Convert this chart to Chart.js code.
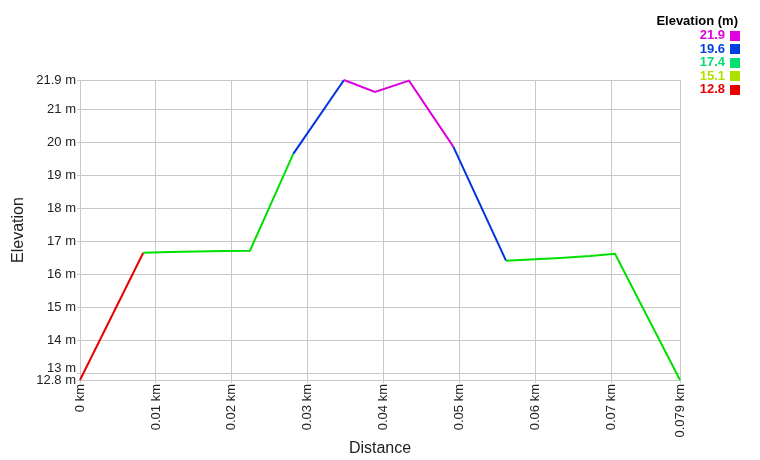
<!DOCTYPE html>
<html>
<head>
<meta charset="utf-8">
<script src="https://cdn.jsdelivr.net/npm/chart.js@4/dist/chart.umd.min.js"></script>
<style>
  html, body { margin: 0; padding: 0; background: #fff; }
  #wrap { width: 760px; height: 460px; position: relative; }
</style>
</head>
<body>
<div id="wrap"><canvas id="c" width="760" height="460"></canvas></div>
<script>
// Distance (km) and elevation (m) along the track
const distanceKm = [0, 0.00833, 0.01185, 0.01883, 0.02238, 0.02808, 0.03476, 0.03884, 0.04332, 0.04915, 0.05609, 0.0632, 0.06715, 0.07044, 0.079];
const elevationM = [12.8, 16.66, 16.68, 16.71, 16.72, 19.66, 21.9, 21.54, 21.88, 19.88, 16.42, 16.50, 16.56, 16.63, 12.8];

// Tick labels
const xTicks = [0, 0.01, 0.02, 0.03, 0.04, 0.05, 0.06, 0.07, 0.079];
const yTicks = [12.8, 13, 14, 15, 16, 17, 18, 19, 20, 21, 21.9];

// Legend entries (elevation bands)
const legendValues = ['21.9', '19.6', '17.4', '15.1', '12.8'];
const legendColors = ['#e000e0', '#0040e0', '#00e070', '#b0e000', '#e80000'];

function segColor(e) {
  if (e < 14) return '#e80000';
  if (e < 19.5) return '#00e000';
  if (e < 20.5) return '#0033dd';
  return '#dd00dd';
}

const points = distanceKm.map((d, i) => ({ x: d, y: elevationM[i] }));

const legendPlugin = {
  id: 'elevLegend',
  afterDraw(chart) {
    const ctx = chart.ctx;
    ctx.save();
    ctx.font = 'bold 13px "Liberation Sans", Arial, sans-serif';
    ctx.textAlign = 'right';
    ctx.textBaseline = 'middle';
    ctx.fillStyle = '#000';
    ctx.fillText('Elevation (m)', 738, 21);
    legendValues.forEach((v, i) => {
      const cy = 35.5 + i * 13.5;
      ctx.fillStyle = legendColors[i];
      ctx.fillText(v, 725, cy);
      ctx.fillRect(730, Math.round(cy - 5), 10, 10);
    });
    ctx.restore();
  }
};

const family = '"Liberation Sans", Arial, sans-serif';

new Chart(document.getElementById('c'), {
  type: 'line',
  data: {
    datasets: [{
      data: points,
      borderWidth: 2,
      pointRadius: 0,
      tension: 0,
      fill: false,
      clip: false,
      borderColor: '#00e000',
      segment: {
        borderColor: c => segColor(c.p0.parsed.y)
      }
    }]
  },
  options: {
    responsive: false,
    animation: false,
    devicePixelRatio: 1,
    layout: { padding: { top: 80, right: 80, left: 0, bottom: 0 } },
    plugins: { legend: { display: false }, tooltip: { enabled: false } },
    scales: {
      x: {
        type: 'linear',
        min: 0,
        max: 0.079,
        afterBuildTicks: s => { s.ticks = xTicks.map(v => ({ value: v })); },
        afterFit: s => { s.height = 80; },
        grid: { color: '#c8c8c8', tickLength: 3, drawTicks: true },
        border: { color: '#c8c8c8' },
        ticks: {
          autoSkip: false,
          minRotation: 90,
          maxRotation: 90,
          padding: 1,
          color: '#222',
          font: { family: family, size: 13 },
          callback: v => v + ' km'
        },
        title: {
          display: true,
          text: 'Distance',
          color: '#222',
          font: { family: family, size: 16 },
          padding: { top: 0, bottom: 2 }
        }
      },
      y: {
        type: 'linear',
        min: 12.8,
        max: 21.9,
        afterBuildTicks: s => { s.ticks = yTicks.map(v => ({ value: v })); },
        afterFit: s => { s.width = 80; },
        grid: { color: '#c8c8c8', tickLength: 3 },
        border: { color: '#c8c8c8' },
        ticks: {
          autoSkip: false,
          padding: 1,
          color: '#222',
          font: c => (c.tick && c.tick.value === 13)
            ? { family: family, size: 13, lineHeight: '10px' }
            : { family: family, size: 13 },
          callback: v => v === 13 ? [v + ' m', ''] : v + ' m'
        },
        title: {
          display: true,
          text: 'Elevation',
          color: '#222',
          font: { family: family, size: 16 },
          padding: { top: 9, bottom: 0 }
        }
      }
    }
  },
  plugins: [legendPlugin]
});
</script>
</body>
</html>
